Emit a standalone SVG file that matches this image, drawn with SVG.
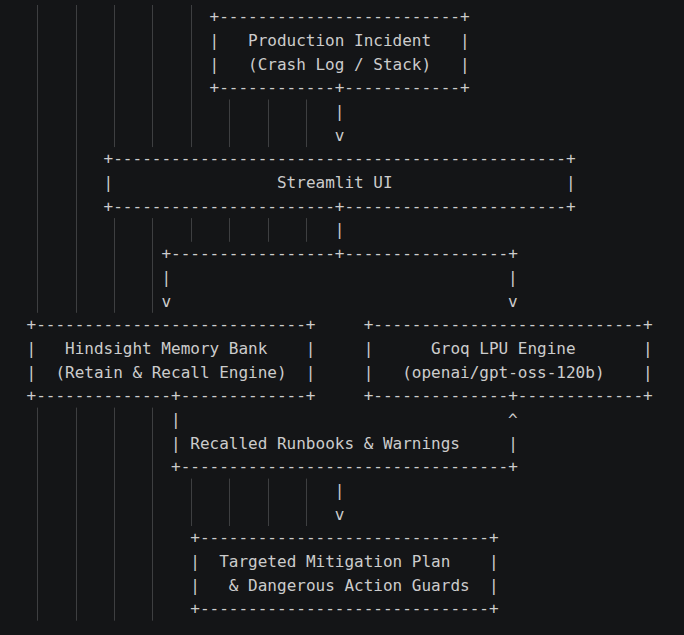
<svg xmlns="http://www.w3.org/2000/svg" width="684" height="635" viewBox="0 0 684 635">
<style>
text{font-family:"DejaVu Sans Mono","Liberation Mono",monospace;font-size:16px;fill:#cccccc;white-space:pre}
.g{stroke:#3e3f41;stroke-width:1}
</style>
<rect width="684" height="635" fill="#141517"/>
<g id="indent-guides" class="g">
<line x1="37.5" y1="5" x2="37.5" y2="312.8"/>
<line x1="37.5" y1="407.6" x2="37.5" y2="620.7"/>
<line x1="76.5" y1="5" x2="76.5" y2="312.8"/>
<line x1="76.5" y1="407.6" x2="76.5" y2="620.7"/>
<line x1="114.5" y1="5" x2="114.5" y2="147.1"/>
<line x1="114.5" y1="218.1" x2="114.5" y2="312.8"/>
<line x1="114.5" y1="407.6" x2="114.5" y2="620.7"/>
<line x1="152.5" y1="5" x2="152.5" y2="147.1"/>
<line x1="152.5" y1="218.1" x2="152.5" y2="312.8"/>
<line x1="152.5" y1="407.6" x2="152.5" y2="620.7"/>
<line x1="191.5" y1="5" x2="191.5" y2="147.1"/>
<line x1="191.5" y1="218.1" x2="191.5" y2="241.8"/>
<line x1="191.5" y1="478.6" x2="191.5" y2="526"/>
<line x1="229.5" y1="99.5" x2="229.5" y2="147.1"/>
<line x1="229.5" y1="218.1" x2="229.5" y2="241.8"/>
<line x1="229.5" y1="478.6" x2="229.5" y2="526"/>
<line x1="268.5" y1="99.5" x2="268.5" y2="147.1"/>
<line x1="268.5" y1="218.1" x2="268.5" y2="241.8"/>
<line x1="268.5" y1="478.6" x2="268.5" y2="526"/>
<line x1="306.5" y1="99.5" x2="306.5" y2="147.1"/>
<line x1="306.5" y1="218.1" x2="306.5" y2="241.8"/>
<line x1="306.5" y1="478.6" x2="306.5" y2="526"/>
</g>
<g id="node-incident">
<text xml:space="preserve" x="209.5" y="22.3">+-------------------------+</text>
<text xml:space="preserve" x="209.5" y="46.0">|   Production Incident   |</text>
<text xml:space="preserve" x="209.5" y="69.7">|   (Crash Log / Stack)   |</text>
<text xml:space="preserve" x="209.5" y="93.3">+------------+------------+</text>
</g>
<g id="node-streamlit">
<text xml:space="preserve" x="103.6" y="164.4">+-----------------------------------------------+</text>
<text xml:space="preserve" x="103.6" y="188.1">|                 Streamlit UI                  |</text>
<text xml:space="preserve" x="103.6" y="211.7">+-----------------------+-----------------------+</text>
</g>
<g id="node-hindsight">
<text xml:space="preserve" x="26.5" y="330.1">+----------------------------+</text>
<text xml:space="preserve" x="26.5" y="353.8">|   Hindsight Memory Bank    |</text>
<text xml:space="preserve" x="26.5" y="377.5">|  (Retain &amp; Recall Engine)  |</text>
<text xml:space="preserve" x="26.5" y="401.2">+--------------+-------------+</text>
</g>
<g id="node-groq">
<text xml:space="preserve" x="363.7" y="330.1">+----------------------------+</text>
<text xml:space="preserve" x="363.7" y="353.8">|      Groq LPU Engine       |</text>
<text xml:space="preserve" x="363.7" y="377.5">|   (openai/gpt-oss-120b)    |</text>
<text xml:space="preserve" x="363.7" y="401.2">+--------------+-------------+</text>
</g>
<g id="node-plan">
<text xml:space="preserve" x="190.3" y="543.3">+------------------------------+</text>
<text xml:space="preserve" x="190.3" y="566.9">|  Targeted Mitigation Plan    |</text>
<text xml:space="preserve" x="190.3" y="590.6">|   &amp; Dangerous Action Guards  |</text>
<text xml:space="preserve" x="190.3" y="614.3">+------------------------------+</text>
</g>
<g id="connectors">
<text x="334.8" y="117.0">|</text>
<text x="334.8" y="140.7">v</text>
<text x="334.8" y="235.4">|</text>
<text xml:space="preserve" x="161.4" y="259.1">+-----------------+-----------------+</text>
<text x="161.4" y="282.8">|</text>
<text x="508.1" y="282.8">|</text>
<text x="161.4" y="306.5">v</text>
<text x="508.1" y="306.5">v</text>
<text x="171.0" y="424.9">|</text>
<text x="508.1" y="424.9">^</text>
<text xml:space="preserve" x="171.0" y="448.5">| Recalled Runbooks &amp; Warnings     |</text>
<text xml:space="preserve" x="171.0" y="472.2">+----------------------------------+</text>
<text x="334.8" y="495.9">|</text>
<text x="334.8" y="519.6">v</text>
</g>
</svg>
